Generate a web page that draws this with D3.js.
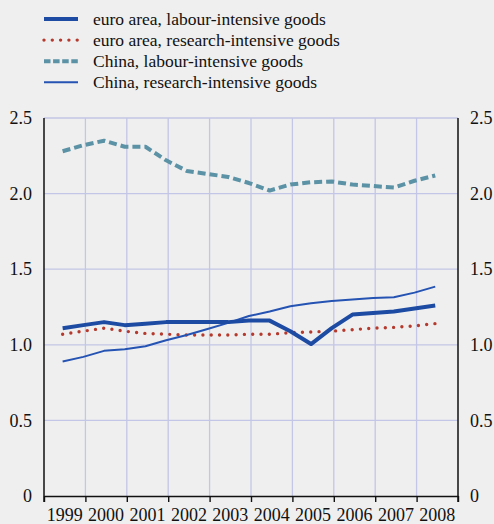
<!DOCTYPE html>
<html>
<head>
<meta charset="utf-8">
<script src="https://cdn.jsdelivr.net/npm/d3@7"></script>
<style>
  html, body { margin: 0; padding: 0; background: #efefef; }
  svg text { font-family: "Liberation Serif", "Nimbus Roman", "Nimbus Roman No9 L", "TeX Gyre Termes", FreeSerif, Times, "DejaVu Serif", serif !important; fill: #111; }
</style>
</head>
<body>
<div id="wrapper"></div>
<script>
// half-year observations, 1999 to 2008
const periods = [1999, 1999.5, 2000, 2000.5, 2001, 2001.5, 2002, 2002.5, 2003, 2003.5,
                 2004, 2004.5, 2005, 2005.5, 2006, 2006.5, 2007, 2007.5, 2008];

const euroLabour = [1.11, 1.13, 1.15, 1.13, 1.14, 1.15, 1.15, 1.15, 1.15, 1.16,
                    1.16, 1.09, 1.005, 1.11, 1.20, 1.21, 1.22, 1.24, 1.26];
const euroResearch = [1.07, 1.09, 1.11, 1.09, 1.075, 1.07, 1.065, 1.065, 1.065, 1.07,
                      1.07, 1.08, 1.085, 1.09, 1.10, 1.11, 1.115, 1.125, 1.14];
const chinaLabour = [2.28, 2.32, 2.35, 2.31, 2.31, 2.22, 2.15, 2.13, 2.11, 2.07,
                     2.02, 2.06, 2.075, 2.08, 2.06, 2.05, 2.04, 2.085, 2.12];
const chinaResearch = [0.89, 0.92, 0.96, 0.97, 0.99, 1.03, 1.065, 1.105, 1.145, 1.19,
                       1.22, 1.255, 1.275, 1.29, 1.30, 1.31, 1.315, 1.345, 1.385];

const years = [1999, 2000, 2001, 2002, 2003, 2004, 2005, 2006, 2007, 2008];
const yTicks = [0, 0.5, 1.0, 1.5, 2.0, 2.5];

const seriesNames = [
    "euro area, labour-intensive goods",
    "euro area, research-intensive goods",
    "China, labour-intensive goods",
    "China, research-intensive goods",
];

const series = [
    { name: seriesNames[0], values: euroLabour, color: "#1d4ba3", width: 4, dash: null, legendDash: null, cap: "butt" },
    { name: seriesNames[1], values: euroResearch, color: "#b53a2d", width: 3.4, dash: "0 8.3", legendDash: "0 8.3", cap: "round" },
    { name: seriesNames[2], values: chinaLabour, color: "#5b92a5", width: 4, dash: "8 4", legendDash: "6.5 2.6", cap: "butt" },
    { name: seriesNames[3], values: chinaResearch, color: "#2453b3", width: 2, dash: null, legendDash: null, cap: "butt" },
];

const dimensions = {
    width: 494,
    height: 524,
    margin: { top: 118, right: 36, bottom: 28, left: 44 },
};
dimensions.boundedWidth = dimensions.width - dimensions.margin.left - dimensions.margin.right;
dimensions.boundedHeight = dimensions.height - dimensions.margin.top - dimensions.margin.bottom;

const wrapper = d3.select("#wrapper")
    .append("svg")
        .attr("width", dimensions.width)
        .attr("height", dimensions.height)
        .style("display", "block")
        .style("background", "#efefef");

// legend
const legend = wrapper.append("g");
const legendItems = legend.selectAll("g")
    .data(series)
    .join("g")
        .attr("transform", (d, i) => `translate(44, ${19 + i * 21.1})`);

legendItems.append("line")
    .attr("x1", 0)
    .attr("x2", 34)
    .attr("stroke", d => d.color)
    .attr("stroke-width", d => d.width)
    .attr("stroke-dasharray", d => d.legendDash)
    .attr("stroke-linecap", d => d.cap);

legendItems.append("text")
    .attr("x", 49)
    .attr("dy", "0.34em")
    .style("font-size", "17.5px")
    .text(d => d.name);

const bounds = wrapper.append("g")
    .attr("transform", `translate(${dimensions.margin.left}, ${dimensions.margin.top})`);

const xScale = d3.scaleLinear()
    .domain([1999, 2009])
    .range([0, dimensions.boundedWidth]);

const yScale = d3.scaleLinear()
    .domain([0, 2.5])
    .range([dimensions.boundedHeight, 0]);

// grid
const gridColor = "#c3c6e6";
bounds.append("g")
    .selectAll("line")
    .data(yTicks.filter(d => d > 0))
    .join("line")
        .attr("x1", 0)
        .attr("x2", dimensions.boundedWidth)
        .attr("y1", d => yScale(d))
        .attr("y2", d => yScale(d))
        .attr("stroke", gridColor)
        .attr("stroke-width", 1.3);

bounds.append("g")
    .selectAll("line")
    .data(years.slice(1))
    .join("line")
        .attr("x1", d => xScale(d))
        .attr("x2", d => xScale(d))
        .attr("y1", 0)
        .attr("y2", dimensions.boundedHeight)
        .attr("stroke", gridColor)
        .attr("stroke-width", 1.3);

// lines
const lineGenerator = values => d3.line()
    .x((d, i) => xScale(periods[i] + 0.45))
    .y(d => yScale(d))(values);

bounds.append("g")
    .selectAll("path")
    .data([series[2], series[1], series[3], series[0]])
    .join("path")
        .attr("d", d => lineGenerator(d.values))
        .attr("fill", "none")
        .attr("stroke", d => d.color)
        .attr("stroke-width", d => d.width)
        .attr("stroke-dasharray", d => d.dash)
        .attr("stroke-linecap", d => d.cap)
        .attr("stroke-linejoin", "round");

// axes
const tickFormat = d => d === 0 ? "0" : d3.format(".1f")(d);

const yAxisLeft = bounds.append("g")
    .call(d3.axisLeft(yScale).tickValues(yTicks).tickSize(0).tickPadding(12).tickFormat(tickFormat));

const yAxisRight = bounds.append("g")
    .attr("transform", `translate(${dimensions.boundedWidth}, 0)`)
    .call(d3.axisRight(yScale).tickValues(yTicks).tickSize(0).tickPadding(12).tickFormat(tickFormat));

[yAxisLeft, yAxisRight].forEach(axis => {
    axis.attr("font-family", null);
    axis.select(".domain").remove();
    axis.selectAll("text")
        .style("font-size", "18px")
        .attr("fill", "#111");
});

const xAxis = bounds.append("g")
    .attr("transform", `translate(0, ${dimensions.boundedHeight})`)
    .call(d3.axisBottom(xScale)
        .tickValues(years.concat([2009]))
        .tickSize(6)
        .tickSizeOuter(0)
        .tickFormat(""));

xAxis.attr("font-family", null);
xAxis.select(".domain").attr("stroke", "#111").attr("stroke-width", 1.4);
xAxis.selectAll(".tick line").attr("stroke", "#111").attr("stroke-width", 1.4);

xAxis.selectAll(".year")
    .data(years)
    .join("text")
        .attr("class", "year")
        .attr("x", d => xScale(d + 0.5))
        .attr("y", 25)
        .attr("text-anchor", "middle")
        .style("font-size", "18px")
        .text(d => d);

// vertical frame lines
bounds.append("g")
    .selectAll("line")
    .data([0, dimensions.boundedWidth])
    .join("line")
        .attr("x1", d => d)
        .attr("x2", d => d)
        .attr("y1", 0)
        .attr("y2", dimensions.boundedHeight + 6)
        .attr("stroke", "#111")
        .attr("stroke-width", 1.5);
</script>
</body>
</html>
